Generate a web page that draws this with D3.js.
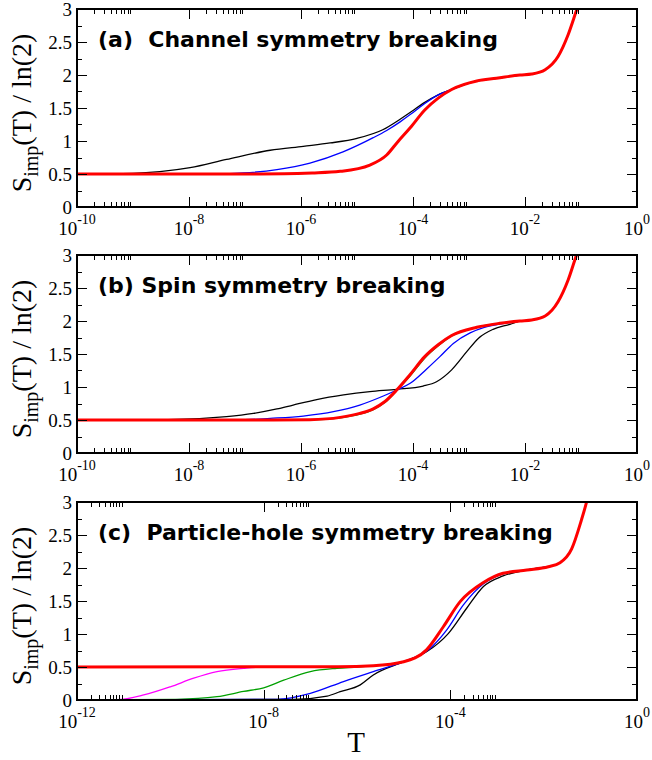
<!DOCTYPE html>
<html>
<head>
<meta charset="utf-8">
<script src="https://cdn.jsdelivr.net/npm/d3@7/dist/d3.min.js"></script>
<style>
  body { margin: 0; background: #fff; }
  text { white-space: pre; }
</style>
</head>
<body>
<script>
// values: exponent of T (log10 T) and S_imp(T)/ln(2)

// (a) channel symmetry breaking
var aBlackT = [-10, -9.0, -8.52, -7.98, -7.33, -6.55, -5.96, -5.48, -5.0, -4.54, -4.23, -4.02, -3.82, -3.55, -3.31, -2.86, -2.51, -2.09]
var aBlackS = [0.5, 0.51, 0.535, 0.595, 0.72, 0.86, 0.92, 0.97, 1.04, 1.17, 1.33, 1.45, 1.57, 1.70, 1.78, 1.91, 1.95, 2.0]
var aBlueT = [-10, -7.5, -7.03, -6.43, -5.84, -5.25, -4.71, -4.47, -4.23, -4.05, -3.82, -3.55, -3.31, -2.86, -2.51, -2.09]
var aBlueS = [0.5, 0.502, 0.515, 0.565, 0.665, 0.835, 1.05, 1.16, 1.29, 1.40, 1.55, 1.70, 1.78, 1.91, 1.95, 2.0]
var aRedT = [-10, -7, -6.3, -5.8, -5.3, -4.77, -4.47, -4.27, -4.05, -3.79, -3.55, -3.31, -2.86, -2.51, -2.09, -1.88, -1.64, -1.41, -1.23, -1.08, -0.95]
var aRedS = [0.5, 0.5, 0.503, 0.515, 0.54, 0.636, 0.788, 0.99, 1.20, 1.47, 1.65, 1.78, 1.91, 1.95, 2.0, 2.015, 2.08, 2.28, 2.61, 2.98, 3.3]

// (b) spin symmetry breaking
var bBlackT = [-10, -8.52, -7.33, -6.85, -6.43, -6.14, -5.72, -5.24, -4.77, -4.29, -3.82, -3.58, -3.31, -3.04, -2.83, -2.57, -2.27, -2.09]
var bBlackS = [0.5, 0.5, 0.55, 0.60, 0.667, 0.727, 0.81, 0.88, 0.93, 0.965, 1.015, 1.08, 1.26, 1.535, 1.74, 1.874, 1.95, 2.0]
var bBlueT = [-10, -7, -6.55, -5.96, -5.42, -4.95, -4.53, -4.29, -4.05, -3.76, -3.52, -3.28, -2.98, -2.74, -2.5, -2.09]
var bBlueS = [0.5, 0.505, 0.525, 0.56, 0.626, 0.727, 0.864, 0.955, 1.056, 1.27, 1.46, 1.66, 1.82, 1.9, 1.945, 2.0]
var bGreenT = [-10, -6.5, -5.84, -5.30, -4.95, -4.71, -4.5, -4.29, -4.05, -3.79, -3.55, -3.31, -2.86, -2.45, -2.09]
var bGreenS = [0.5, 0.5, 0.503, 0.535, 0.59, 0.66, 0.77, 0.95, 1.17, 1.44, 1.625, 1.775, 1.905, 1.965, 2.0]
var bRedT = [-10, -6.5, -5.84, -5.30, -4.95, -4.71, -4.5, -4.29, -4.05, -3.79, -3.55, -3.31, -2.86, -2.45, -2.09, -1.88, -1.64, -1.41, -1.23, -1.08, -0.95]
var bRedS = [0.5, 0.5, 0.505, 0.54, 0.60, 0.67, 0.78, 0.955, 1.19, 1.46, 1.64, 1.78, 1.905, 1.965, 2.0, 2.015, 2.075, 2.29, 2.62, 3.0, 3.3]

// (c) particle-hole symmetry breaking
var cMagentaT = [-12, -11.14, -10.57, -10.0, -9.5, -9.0, -8.43, -8.0, -7.0, -6.4]
var cMagentaS = [0, 0.005, 0.076, 0.20, 0.33, 0.43, 0.48, 0.5, 0.5, 0.505]
var cGreenT = [-12, -9.86, -9.0, -8.43, -8.0, -7.57, -7.0, -6.43, -6.0, -5.65]
var cGreenS = [0, 0.01, 0.05, 0.13, 0.185, 0.30, 0.43, 0.48, 0.5, 0.52]
var cBlueT = [-12, -7.71, -7.0, -6.29, -5.65, -5.0, -4.47, -4.08, -3.72, -3.29, -2.87, -2.36, -1.9]
var cBlueS = [0, 0.01, 0.10, 0.28, 0.43, 0.58, 0.76, 1.06, 1.44, 1.76, 1.91, 1.97, 2.02]
var cBlackT = [-12, -7.36, -6.64, -6.36, -5.93, -5.65, -5.0, -4.51, -4.04, -3.65, -3.29, -2.87, -2.36, -1.9]
var cBlackS = [0, 0.01, 0.06, 0.126, 0.23, 0.38, 0.58, 0.73, 1.01, 1.39, 1.72, 1.88, 1.97, 2.02]
var cRedT = [-12, -6.4, -5.65, -5.0, -4.51, -4.15, -3.79, -3.29, -2.87, -2.36, -1.90, -1.65, -1.40, -1.19, -1.08, -0.95]
var cRedS = [0.5, 0.505, 0.52, 0.58, 0.76, 1.11, 1.49, 1.78, 1.92, 1.97, 2.02, 2.08, 2.29, 2.73, 3.0, 3.4]

// axis ticks
var abMajor = [-10, -8, -6, -4, -2, 0]
var cMajor = [-12, -8, -4, 0]
var yMajor = [0, 0.5, 1, 1.5, 2, 2.5, 3]
var yMinor = [0.25, 0.75, 1.25, 1.75, 2.25, 2.75]
var yLabels = ["0", "0.5", "1", "1.5", "2", "2.5", "3"]

var titles = ["(a)  Channel symmetry breaking", "(b) Spin symmetry breaking", "(c)  Particle-hole symmetry breaking"]

var width = 652, height = 760
var left = 77, right = 637, ph = 198
var tops = [9, 255, 502]
var serif = "Liberation Serif, Times New Roman, serif"

var svg = d3.select("body").append("svg")
    .attr("width", width)
    .attr("height", height)

function series(ts, ss, color, w) {
    return {pts: ts.map(function(t, i){ return [Math.pow(10, t), ss[i]] }), color: color, w: w}
}

var panels = [
    {major: abMajor, curves: [
        series(aBlackT, aBlackS, "#000", 1.3),
        series(aBlueT, aBlueS, "#0000ff", 1.3),
        series(aRedT, aRedS, "#00a000", 1.3),
        series(aRedT, aRedS, "#ff0000", 3)]},
    {major: abMajor, curves: [
        series(bBlackT, bBlackS, "#000", 1.3),
        series(bBlueT, bBlueS, "#0000ff", 1.3),
        series(bGreenT, bGreenS, "#00a000", 1.6),
        series(bRedT, bRedS, "#ff0000", 3)]},
    {major: cMajor, curves: [
        series(cMagentaT, cMagentaS, "#ff00ff", 1.3),
        series(cGreenT, cGreenS, "#00a000", 1.3),
        series(cBlackT, cBlackS, "#000", 1.3),
        series(cBlueT, cBlueS, "#0000ff", 1.3),
        series(cRedT, cRedS, "#ff0000", 3)]}
]

panels.forEach(function(p, pi) {
    var top = tops[pi], bottom = top + ph
    var x = d3.scaleLog()
        .domain([Math.pow(10, p.major[0]), 1])
        .range([left, right])
    var y = d3.scaleLinear().domain([0, 3]).range([bottom, top])

    var g = svg.append("g")

    svg.append("clipPath").attr("id", "clip" + pi)
        .append("rect")
        .attr("x", left).attr("y", top)
        .attr("width", right - left).attr("height", ph)

    var line = d3.line()
        .x(function(d){ return x(d[0]) })
        .y(function(d){ return y(d[1]) })
        .curve(d3.curveMonotoneX)

    g.append("g").attr("clip-path", "url(#clip" + pi + ")")
        .selectAll("path")
        .data(p.curves)
        .enter().append("path")
        .attr("d", function(d){ return line(d.pts) })
        .attr("fill", "none")
        .attr("stroke", function(d){ return d.color })
        .attr("stroke-width", function(d){ return d.w })
        .attr("stroke-linejoin", "round")

    // minor x ticks: 2..9 inside the decade after each major tick
    var xMinor = []
    p.major.slice(0, -1).forEach(function(e) {
        for (var k = 2; k <= 9; k++) xMinor.push(k * Math.pow(10, e))
    })
    var xMaj = p.major.map(function(e){ return Math.pow(10, e) })

    var ticks = g.append("g").attr("stroke", "#000").attr("stroke-width", 1)
    function vt(vals, len) {
        vals.forEach(function(v) {
            var px = Math.round(x(v)) + 0.5
            ticks.append("line").attr("x1", px).attr("x2", px).attr("y1", bottom).attr("y2", bottom - len)
            ticks.append("line").attr("x1", px).attr("x2", px).attr("y1", top).attr("y2", top + len)
        })
    }
    function ht(vals, len) {
        vals.forEach(function(v) {
            var py = Math.round(y(v)) + 0.5
            ticks.append("line").attr("y1", py).attr("y2", py).attr("x1", left).attr("x2", left + len)
            ticks.append("line").attr("y1", py).attr("y2", py).attr("x1", right).attr("x2", right - len)
        })
    }
    vt(xMaj, 10); vt(xMinor, 5)
    ht(yMajor, 10); ht(yMinor, 5)

    g.append("rect")
        .attr("x", left).attr("y", top)
        .attr("width", right - left).attr("height", ph)
        .attr("fill", "none").attr("stroke", "#000").attr("stroke-width", 2)

    // y tick labels
    g.selectAll(".yl").data(yMajor).enter().append("text")
        .attr("x", left - 5)
        .attr("y", function(d){ return y(d) + 7 })
        .attr("text-anchor", "end")
        .attr("font-family", serif)
        .attr("font-size", 19)
        .text(function(d, i){ return yLabels[i] })

    // x tick labels 10^e
    p.major.forEach(function(e) {
        var t = g.append("text")
            .attr("x", x(Math.pow(10, e)))
            .attr("y", bottom + 28)
            .attr("text-anchor", "middle")
            .attr("font-family", serif)
            .attr("font-size", 19)
        t.append("tspan").text("10")
        t.append("tspan").attr("dy", -11).attr("font-size", 14).text(String(e))
    })

    // y axis label
    var yl = g.append("text")
        .attr("transform", "translate(31," + (top + ph / 2 + 5) + ") rotate(-90)")
        .attr("text-anchor", "middle")
        .attr("font-family", serif)
        .attr("font-size", 28)
    yl.append("tspan").text("S")
    yl.append("tspan").attr("font-size", 20).attr("dy", 7).text("imp")
    yl.append("tspan").attr("dy", -7).text("(T) / ln(2)")

    // title
    g.append("text")
        .attr("x", 98).attr("y", top + 38)
        .attr("font-family", "DejaVu Sans, sans-serif")
        .attr("font-weight", "bold")
        .attr("font-size", 22)
        .text(titles[pi])
})

svg.append("text")
    .attr("x", 356).attr("y", 752)
    .attr("text-anchor", "middle")
    .attr("font-family", serif)
    .attr("font-size", 29)
    .text("T")
</script>
</body>
</html>
